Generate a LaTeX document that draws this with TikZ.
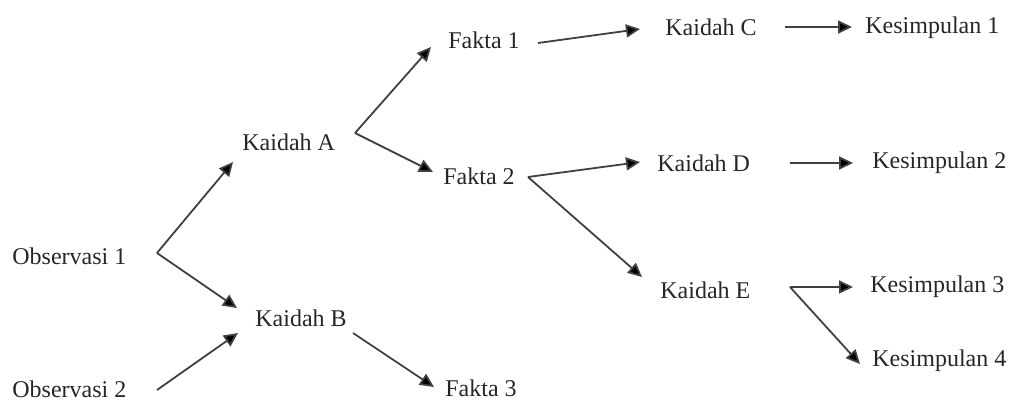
\documentclass[tikz,border=0pt]{standalone}
\usepackage{fontspec}
\setmainfont{Liberation Serif}
\usetikzlibrary{arrows.meta,calc}
\tikzset{
  lbl/.style={anchor=west,inner sep=0pt,font=\fontsize{12}{14}\selectfont,text=black!85},
  arr/.style={draw=black!75,line width=0.9pt,-{Triangle[length=7pt,width=6.5pt,fill=black]}}
}
\begin{document}
\begin{tikzpicture}[x=0.5pt,y=-0.5pt]
\useasboundingbox (0,0) rectangle (1014,401);
% labels
\node[lbl] (o1) at (12,256) {Observasi 1};
\node[lbl] (o2) at (12,389) {Observasi 2};
\node[lbl] (kA) at (242,142) {Kaidah A};
\node[lbl] (kB) at (255,318) {Kaidah B};
\node[lbl] (f1) at (448,40) {Fakta 1};
\node[lbl] (f2) at (443,176) {Fakta 2};
\node[lbl] (f3) at (445,388) {Fakta 3};
\node[lbl] (kC) at (665,27) {Kaidah C};
\node[lbl] (kD) at (657,163) {Kaidah D};
\node[lbl] (kE) at (660,290) {Kaidah E};
\node[lbl] (s1) at (865,28) {Kesimpulan 1};
\node[lbl] (s2) at (872,163) {Kesimpulan 2};
\node[lbl] (s3) at (870,287) {Kesimpulan 3};
\node[lbl] (s4) at (872,361) {Kesimpulan 4};
% branch points
\coordinate (po1) at (157,253);
\coordinate (po2) at (157,390);
\coordinate (pkA) at (355,133);
\coordinate (pkB) at (353,333);
\coordinate (pf1) at (538,43);
\coordinate (pf2) at (528,177);
\coordinate (pkC) at (785,27);
\coordinate (pkD) at (790,163);
\coordinate (pkE) at (790,287);
% connectors
\draw[arr] (po1) -- ($(kA.west)+(-9,20)$);
\draw[arr] (po1) -- ($(kB.west)+(-18,-10)$);
\draw[arr] (po2) -- ($(kB.west)+(-17,15)$);
\draw[arr] (pkA) -- ($(f1.west)+(-17,7)$);
\draw[arr] (pkA) -- ($(f2.west)+(-10,-4)$);
\draw[arr] (pkB) -- ($(f3.west)+(-11,-1)$);
\draw[arr] (pf1) -- ($(kC.west)+(-25,2)$);
\draw[arr] (pf2) -- ($(kD.west)+(-17,-1)$);
\draw[arr] (pf2) -- ($(kE.west)+(-18,-13)$);
\draw[arr] (pkC) -- ($(s1.west)+(-13,-1)$);
\draw[arr] (pkD) -- ($(s2.west)+(-19,0)$);
\draw[arr] (pkE) -- ($(s3.west)+(-17,0)$);
\draw[arr] (pkE) -- ($(s4.west)+(-12,3)$);
\end{tikzpicture}
\end{document}
